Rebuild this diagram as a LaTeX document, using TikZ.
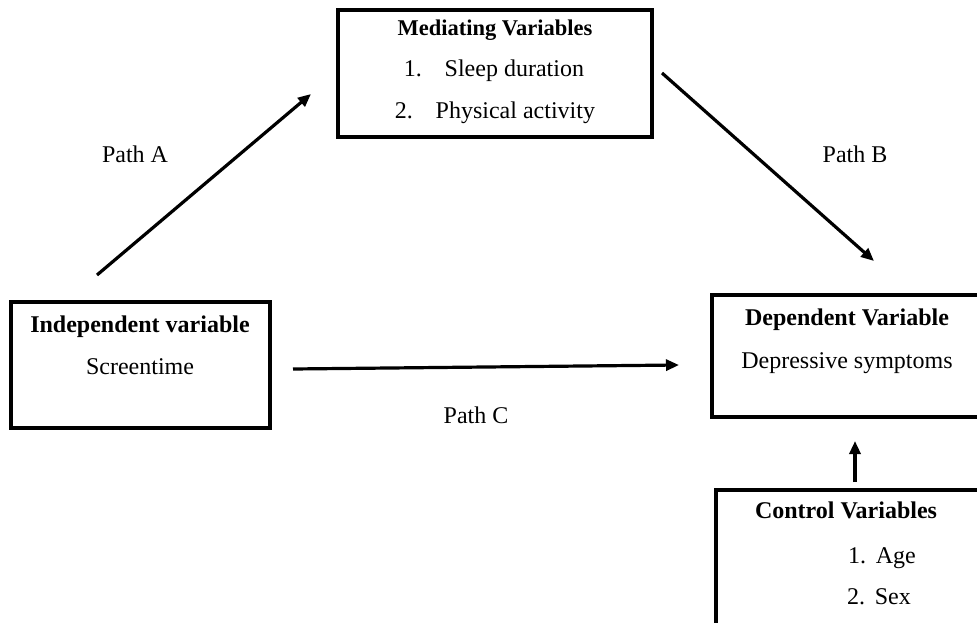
\documentclass[tikz,border=0pt]{standalone}
\usepackage{fontspec}
\setmainfont{Liberation Serif}
\usetikzlibrary{arrows.meta}
\begin{document}
\begin{tikzpicture}[x=1pt,y=-1pt,
  boxnode/.style={draw=black,line width=3.5pt,rectangle,inner sep=0pt},
  txt/.style={anchor=base,inner sep=0pt,font=\fontsize{24}{28}\selectfont},
  hdr/.style={txt,font=\fontsize{24}{28}\selectfont\bfseries},
  conn/.style={line width=3.2pt,-{Triangle[length=13pt,width=11pt]}}]
\useasboundingbox (0,0) rectangle (977,623);
\clip (0,0) rectangle (977,623);
% boxes
\node[boxnode,minimum width=314pt,minimum height=127pt] (med) at (495,73.5) {};
\node[boxnode,minimum width=259pt,minimum height=126pt] (ind) at (140.5,365) {};
\node[boxnode,minimum width=290pt,minimum height=122pt] (dep) at (857,356) {};
\node[boxnode,minimum width=290pt,minimum height=160pt] (ctl) at (861,570) {};
% texts
\node[hdr,font=\fontsize{22.5}{28}\selectfont\bfseries] (medh) at (495,36) {Mediating Variables};
\node[txt] (med1) at (494,77) {1.\hspace{0.95em}Sleep duration};
\node[txt] (med2) at (495,119) {2.\hspace{0.95em}Physical activity};
\node[hdr] (indh) at (140,332) {Independent variable};
\node[txt] (ind1) at (140,374) {Screentime};
\node[hdr] (deph) at (847,325) {Dependent Variable};
\node[txt] (dep1) at (847,368) {Depressive symptoms};
\node[hdr] (ctlh) at (846,518) {Control Variables};
\node[txt,anchor=base west] (ctl1) at (848,563) {1.\hspace{0.4em}Age};
\node[txt,anchor=base west] (ctl2) at (847,604) {2.\hspace{0.4em}Sex};
% path labels
\node[txt] (pa) at (135,162) {Path A};
\node[txt] (pb) at (855,162) {Path B};
\node[txt] (pc) at (476,423) {Path C};
% connector end points
\coordinate (as) at (97,275);
\coordinate (ae) at (311,94);
\coordinate (bs) at (662,73);
\coordinate (be) at (874,261);
\coordinate (cs) at (293,369);
\coordinate (ce) at (679,365);
\coordinate (ds) at (855,482);
\coordinate (de) at (855,441);
\draw[conn] (as) -- (ae);
\draw[conn] (bs) -- (be);
\draw[conn] (cs) -- (ce);
\draw[conn] (ds) -- (de);
\end{tikzpicture}
\end{document}
